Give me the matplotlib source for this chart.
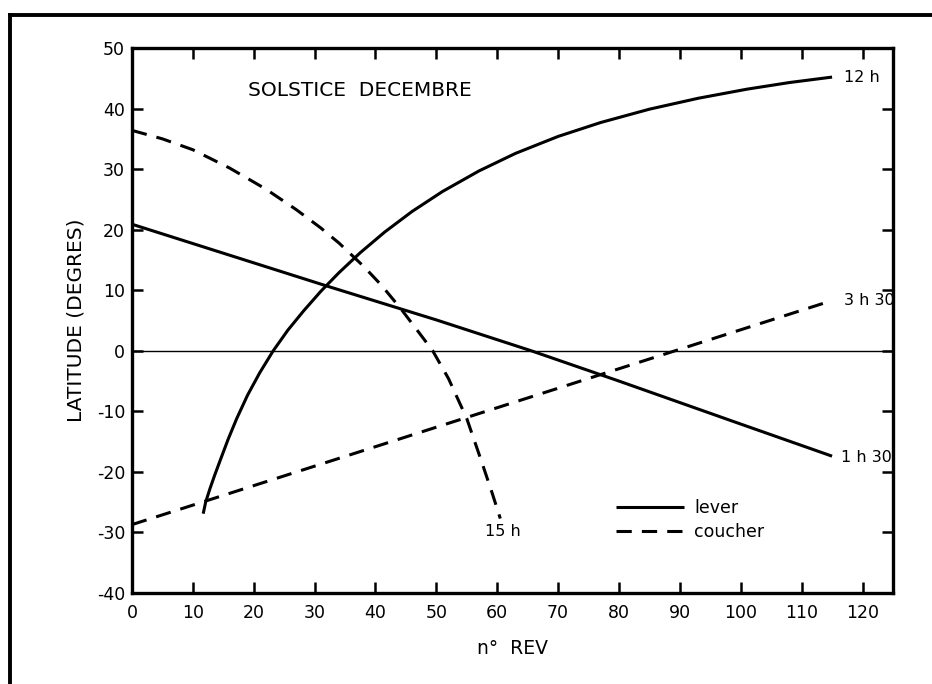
import numpy as np
import matplotlib.pyplot as plt
from matplotlib.lines import Line2D

plt.rcParams['font.family'] = ['DejaVu Sans']
plt.rcParams['axes.unicode_minus'] = False

# curves (x = n° REV, y = latitude in degrees)
rev_1h30 = [0, 32, 50, 65.6, 80, 100, 115]
lat_1h30 = [20.9, 10.7, 5.1, 0, -5.0, -12.1, -17.4]

rev_12h = [11.7, 12.1, 12.8, 13.6, 14.6, 15.8, 17.2, 19.0, 21.0, 23.2, 25.6, 28.2, 31.0, 34.0,
           37.5, 41.5, 46, 51, 57, 63, 70, 77, 85, 93, 101, 108, 115]
lat_12h = [-26.9, -25.0, -22.8, -20.5, -17.8, -14.6, -11.2, -7.3, -3.6, 0, 3.4, 6.6, 9.8, 12.9,
           16.2, 19.6, 23.0, 26.3, 29.7, 32.6, 35.4, 37.7, 39.9, 41.7, 43.2, 44.3, 45.2]

rev_3h30 = [0, 115]
lat_3h30 = [-28.7, 8.3]

rev_15h = [0, 5, 10, 16, 22, 27, 31, 34, 38, 41, 44.2, 47, 49.4, 52, 55, 57.5, 59.2, 60.5]
lat_15h = [36.4, 35.0, 33.2, 30.2, 26.7, 23.3, 20.3, 17.8, 14.0, 10.8, 6.9, 3.2, 0,
           -4.6, -11.2, -18.5, -23.6, -27.7]

x_ticks = list(range(0, 121, 10))
y_ticks = list(range(-40, 51, 10))

fig = plt.figure(figsize=(9.32, 6.84), dpi=100)
ax = fig.add_axes([0.1416, 0.1330, 0.8165, 0.7968])

lw = 2.2
dash = (0, (5, 3.3))
ax.plot(rev_1h30, lat_1h30, color='black', lw=lw, solid_capstyle='butt', label='lever')
ax.plot(rev_12h, lat_12h, color='black', lw=lw, solid_capstyle='butt')
ax.plot(rev_3h30, lat_3h30, color='black', lw=lw, linestyle=dash, label='coucher')
ax.plot(rev_15h, lat_15h, color='black', lw=lw, linestyle=dash)
ax.axhline(0, color='black', lw=1.0)

ax.set_xlim(0, 125)
ax.set_ylim(-40, 50)
ax.set_xticks(x_ticks)
ax.set_yticks(y_ticks)
ax.tick_params(direction='in', length=8, width=1.8, top=True, right=True,
               labelsize=12.5)
ax.tick_params(axis='x', pad=8)
ax.tick_params(axis='y', pad=5)
for s in ax.spines.values():
    s.set_linewidth(2.4)

ax.set_xlabel('n°  REV', fontsize=13.5, labelpad=12)
ax.set_ylabel('LATITUDE (DEGRES)', fontsize=14.5, labelpad=8)

ax.text(19.1, 43, 'SOLSTICE  DECEMBRE', fontsize=14.5, va='center', ha='left')
ax.text(117, 45.2, '12 h', fontsize=11.5, va='center', ha='left')
ax.text(117, 8.3, '3 h 30', fontsize=11.5, va='center', ha='left')
ax.text(116.5, -17.6, '1 h 30', fontsize=11.5, va='center', ha='left')
ax.text(61, -29.8, '15 h', fontsize=11.5, va='center', ha='center')

ax.legend(loc='upper left', bbox_to_anchor=(0.636, 0.172), frameon=False,
          fontsize=12.5, handlelength=3.9, handletextpad=0.6, labelspacing=0.35,
          borderpad=0, borderaxespad=0)

# outer frame of the original figure (top and left edges)
fig.add_artist(Line2D([10 / 932, 10 / 932], [0, 1 - 15 / 684], color='black', lw=2.8,
                      transform=fig.transFigure))
fig.add_artist(Line2D([10 / 932, 1], [1 - 15 / 684, 1 - 15 / 684], color='black', lw=2.8,
                      transform=fig.transFigure))

fig.savefig('out.png', dpi=100)
